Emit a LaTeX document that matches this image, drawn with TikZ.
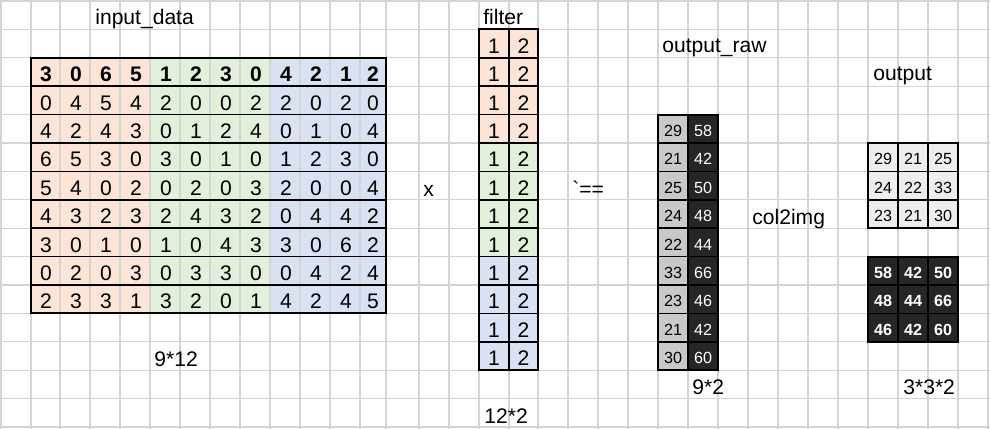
\documentclass[tikz,border=0pt]{standalone}
\usepackage{fontspec}
\setmainfont{Liberation Sans}
\begin{document}
\begin{tikzpicture}[x=0.02cm, y=-0.02cm,
        rotulo/.style={anchor=base west, inner sep=0pt, font=\fontsize{12}{14}\selectfont},
        num/.style={anchor=base, inner sep=0pt, font=\fontsize{12}{14}\selectfont},
        numpeq/.style={anchor=base, inner sep=0pt, font=\fontsize{9.2}{11}\selectfont},
        borda/.style={black, line width=0.8pt},
        contorno/.style={black, line width=1.2pt}]
        % Paleta de cores da planilha
        \definecolor{laranja}{HTML}{FCE4D6}
        \definecolor{verde}{HTML}{E2EFDA}
        \definecolor{azul}{HTML}{D9E1F2}
        \definecolor{cinza}{HTML}{C9C9C9}
        \definecolor{cinzaclaro}{HTML}{EDEDED}
        \definecolor{escuro}{HTML}{262626}
        \definecolor{grade}{HTML}{D4D4D4}

        \useasboundingbox (0,0) rectangle (990,429);

        % Preenchimentos das tabelas
        \fill[laranja] (31,57.8) rectangle (150,313.4);
        \fill[verde] (150,57.8) rectangle (270,313.4);
        \fill[azul] (270,57.8) rectangle (386,313.4);
        \fill[laranja] (479,29.4) rectangle (538,143);
        \fill[verde] (479,143) rectangle (538,256.6);
        \fill[azul] (479,256.6) rectangle (538,370.2);
        \fill[cinza] (658,114.6) rectangle (688,370.2);
        \fill[escuro] (688,114.6) rectangle (718,370.2);
        \fill[cinzaclaro] (868,143) rectangle (958,228.2);
        \fill[escuro] (868,256.6) rectangle (958,341.8);

        % Grade da planilha
        \foreach \gx in {1,31,60,90,120,150,180,210,240,270,300,330,360,386,419,449,479,509,538,568,598,628,658,688,718,748,778,808,838,868,898,928,958,988}
            \draw[grade, line width=0.7pt] (\gx,0) -- (\gx,429);
        \foreach \k in {0,...,15}
            \draw[grade, line width=0.7pt] (0,{1+28.4*\k}) -- (990,{1+28.4*\k});

        % Bordas pretas
        \foreach \k in {3,...,10}
            \draw[borda] (31,{1+28.4*\k}) -- (386,{1+28.4*\k});
        \draw[contorno] (31,57.8) rectangle (386,313.4);
        \foreach \k in {2,...,12}
            \draw[borda] (479,{1+28.4*\k}) -- (538,{1+28.4*\k});
        \draw[borda] (509,29.4) -- (509,370.2);
        \draw[contorno] (479,29.4) rectangle (538,370.2);
        \foreach \k in {5,...,12}
            \draw[borda] (658,{1+28.4*\k}) -- (718,{1+28.4*\k});
        \draw[borda] (688,114.6) -- (688,370.2);
        \draw[contorno] (658,114.6) rectangle (718,370.2);
        \foreach \k in {6,7,10,11}
            \draw[borda] (868,{1+28.4*\k}) -- (958,{1+28.4*\k});
        \foreach \gx in {898,928} {
            \draw[borda] (\gx,143) -- (\gx,228.2);
            \draw[borda] (\gx,256.6) -- (\gx,341.8);
        }
        \draw[contorno] (868,143) rectangle (958,228.2);
        \draw[contorno] (868,256.6) rectangle (958,341.8);

        % Dados de entrada: primeira linha em negrito
        \foreach \v [count=\c] in {3,0,6,5,1,2,3,0,4,2,1,2} {
            \pgfmathsetmacro\xc{ifthenelse(\c<12, 30*\c+16, 373)}
            \node[num, font=\fontsize{12}{14}\selectfont\bfseries] (in-1-\c) at (\xc,82) {\v};
        }
        \foreach \linha [count=\r from 2] in {{0,4,5,4,2,0,0,2,2,0,2,0}, {4,2,4,3,0,1,2,4,0,1,0,4}, {6,5,3,0,3,0,1,0,1,2,3,0}, {5,4,0,2,0,2,0,3,2,0,0,4}, {4,3,2,3,2,4,3,2,0,4,4,2}, {3,0,1,0,1,0,4,3,3,0,6,2}, {0,2,0,3,0,3,3,0,0,4,2,4}, {2,3,3,1,3,2,0,1,4,2,4,5}} {
            \foreach \v [count=\c] in \linha {
                \pgfmathsetmacro\xc{ifthenelse(\c<12, 30*\c+16, 373)}
                \node[num] (in-\r-\c) at (\xc,{1+28.4*(\r+2)-4.5}) {\v};
            }
        }

        % Filtro 12x2
        \foreach \r in {1,...,12} {
            \node[num] (f-\r-1) at (494,{1+28.4*(\r+1)-4.5}) {1};
            \node[num] (f-\r-2) at (523.5,{1+28.4*(\r+1)-4.5}) {2};
        }

        % Saida bruta 9x2
        \foreach \a/\b [count=\k] in {29/58, 21/42, 25/50, 24/48, 22/44, 33/66, 23/46, 21/42, 30/60} {
            \node[numpeq] (raw-\k-1) at (673,{1+28.4*(\k+4)-6.5}) {\a};
            \node[numpeq, text=white] (raw-\k-2) at (703,{1+28.4*(\k+4)-6.5}) {\b};
        }

        % Saida final 3x3x2
        \foreach \p/\q/\s [count=\k] in {29/21/25, 24/22/33, 23/21/30} {
            \node[numpeq] (o1-\k-1) at (883,{1+28.4*(\k+5)-6.5}) {\p};
            \node[numpeq] (o1-\k-2) at (913,{1+28.4*(\k+5)-6.5}) {\q};
            \node[numpeq] (o1-\k-3) at (943,{1+28.4*(\k+5)-6.5}) {\s};
        }
        \foreach \p/\q/\s [count=\k] in {58/42/50, 48/44/66, 46/42/60} {
            \node[numpeq, text=white, font=\fontsize{9.2}{11}\selectfont\bfseries] (o2-\k-1) at (883,{1+28.4*(\k+9)-6.5}) {\p};
            \node[numpeq, text=white, font=\fontsize{9.2}{11}\selectfont\bfseries] (o2-\k-2) at (913,{1+28.4*(\k+9)-6.5}) {\q};
            \node[numpeq, text=white, font=\fontsize{9.2}{11}\selectfont\bfseries] (o2-\k-3) at (943,{1+28.4*(\k+9)-6.5}) {\s};
        }

        % Rotulos
        \node[rotulo] (rot-input) at (95,25) {input\_data};
        \node[rotulo] (rot-dim-in) at (154,366) {9*12};
        \node[rotulo] (rot-x) at (423,196) {x};
        \node[rotulo] (rot-filter) at (483,25) {filter};
        \node[rotulo] (rot-dim-f) at (484,423) {12*2};
        \node[rotulo] (rot-igual) at (572,196) {\textasciigrave==};
        \node[rotulo] (rot-raw) at (662,53) {output\_raw};
        \node[rotulo] (rot-dim-raw) at (692,394) {9*2};
        \node[rotulo] (rot-col2img) at (752,224) {col2img};
        \node[rotulo] (rot-output) at (873,81) {output};
        \node[rotulo] (rot-dim-out) at (903,394) {3*3*2};
    \end{tikzpicture}
\end{document}
